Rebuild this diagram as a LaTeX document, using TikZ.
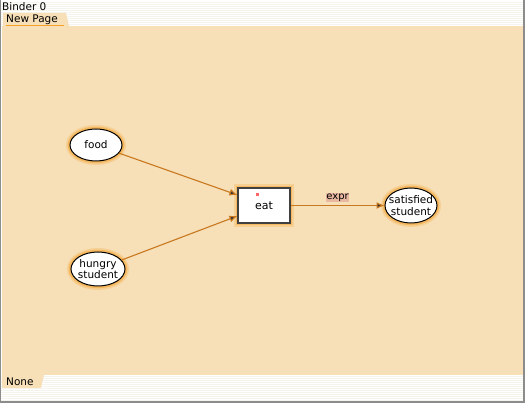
\documentclass[tikz,border=0pt]{standalone}
\usepackage{fontspec}
\setmainfont{DejaVu Sans}
\usetikzlibrary{arrows.meta,shapes.geometric}
\definecolor{peach}{RGB}{247,223,183}
\definecolor{stripe}{RGB}{244,244,236}
\definecolor{glow}{RGB}{245,160,40}
\definecolor{edgec}{RGB}{200,120,30}
\definecolor{lblbg}{RGB}{232,184,160}
\begin{document}
\begin{tikzpicture}[x=1pt,y=-1pt,
  uifont/.style={font=\fontsize{10.5}{11}\selectfont},
  place/.style={ellipse,draw=black,line width=1pt,fill=white,
    inner xsep=-10pt,inner ysep=-8pt,
    font=\fontsize{10.5}{11.5}\selectfont,align=center,
    preaction={draw=glow,line width=8pt,opacity=0.25},
    preaction={draw=glow,line width=4.5pt,opacity=0.5}},
  trans/.style={rectangle,draw=black!75,line width=1.1pt,fill=white,inner sep=0pt,
    minimum width=52pt,minimum height=35pt,font=\fontsize{11}{12}\selectfont,
    preaction={draw=glow,line width=8pt,opacity=0.25},
    preaction={draw=glow,line width=4.5pt,opacity=0.45}},
  arc/.style={draw=edgec,line width=1.1pt,-{Latex[length=8pt,width=7pt,fill=black!80]}},
  every node/.style={text=black}]
\useasboundingbox (0,0) rectangle (525,403);
% window background
\fill[white] (0,0) rectangle (525,403);
\foreach \y in {2,4,...,26} {\draw[stripe,line width=0.8pt] (0,\y) -- (525,\y);}
\foreach \y in {376,378,...,400} {\draw[stripe,line width=0.8pt] (0,\y) -- (525,\y);}
\fill[peach] (2,26) rectangle (523,375);
\draw[black!45,line width=1pt] (0.5,0) -- (0.5,403);
\draw[black!45,line width=1.5pt] (0,402) -- (525,402);
\draw[black!45,line width=1.5pt] (524.2,0) -- (524.2,403);
% top bar
\node[anchor=west,inner sep=0pt,uifont] (binder) at (2,7) {Binder 0};
\fill[peach] (3,13) -- (66,13) -- (69,26) -- (3,26) -- cycle;
\node[anchor=west,inner sep=0pt,uifont] (page) at (6,19.5) {New Page};
\draw[glow,line width=1pt] (6,25.5) -- (64,25.5);
% bottom tab
\fill[peach] (2,375) -- (44,375) -- (41,388) -- (2,388) -- cycle;
\node[anchor=west,inner sep=0pt,uifont] (none) at (6,381.5) {None};
% nodes
\node[place,minimum width=52pt,minimum height=32pt] (food) at (96,145) {food};
\node[place,minimum width=54pt,minimum height=34pt] (hungry) at (98,269) {hungry\\student};
\node[trans] (eat) at (264,205.5) {eat};
\fill[red!60!white] (255.5,193.5) rectangle (258.5,196.5);
\node[place,minimum width=52pt,minimum height=35pt] (sat) at (411,205.5) {satisfied\\student};
% arcs
\draw[arc] (food) -- (eat.west |- 0,195);
\draw[arc] (hungry) -- (eat.west |- 0,216);
\draw[arc] (eat) -- node[pos=0.5,above=3pt,fill=lblbg,inner sep=0.5pt,font=\fontsize{10}{11}\selectfont] (lbl) {expr} (sat);
\end{tikzpicture}
\end{document}
